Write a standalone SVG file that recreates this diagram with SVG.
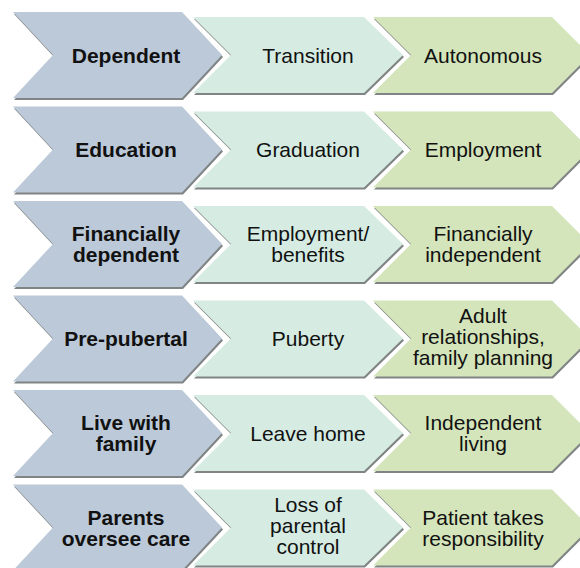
<svg xmlns="http://www.w3.org/2000/svg" width="580" height="568" viewBox="0 0 580 568">
<style>
.b{fill:#bcc9d8}
.t{fill:#d6ece3}
.g{fill:#d4e5bb}
.sh{fill:#808484}
text{font-family:"Liberation Sans",Arial,Helvetica,sans-serif;font-size:21px;fill:#111;text-anchor:middle}
.bold{font-weight:bold}
</style>
<defs>
<polygon id="pb" points="13,0 182,0 222,43 182,86 13,86 53,43"/>
<polygon id="pt" points="193,5 364,5 403,43 364,81 193,81 231,43"/>
<polygon id="pg" points="373,5 552,5 590,43 552,81 373,81 411,43"/>
</defs>
<rect width="580" height="568" fill="#ffffff"/>
<g id="connectors"/>

<g id="row1" transform="translate(0,12)">
<g id="dependent"><use href="#pb" class="sh" x="1" y="2"/><use href="#pb" class="b"/><text class="bold" x="126" y="50.5">Dependent</text></g>
<g id="transition"><use href="#pt" class="sh" x="1" y="2"/><use href="#pt" class="t"/><text x="308" y="50.5">Transition</text></g>
<g id="autonomous"><use href="#pg" class="sh" x="1" y="2"/><use href="#pg" class="g"/><text x="483" y="50.5">Autonomous</text></g>
</g>

<g id="row2" transform="translate(0,106.5)">
<g id="education"><use href="#pb" class="sh" x="1" y="2"/><use href="#pb" class="b"/><text class="bold" x="126" y="50.5">Education</text></g>
<g id="graduation"><use href="#pt" class="sh" x="1" y="2"/><use href="#pt" class="t"/><text x="308" y="50.5">Graduation</text></g>
<g id="employment"><use href="#pg" class="sh" x="1" y="2"/><use href="#pg" class="g"/><text x="483" y="50.5">Employment</text></g>
</g>

<g id="row3" transform="translate(0,201)">
<g id="financially-dependent"><use href="#pb" class="sh" x="1" y="2"/><use href="#pb" class="b"/><text class="bold" x="126" y="40">Financially</text><text class="bold" x="126" y="61">dependent</text></g>
<g id="employment-benefits"><use href="#pt" class="sh" x="1" y="2"/><use href="#pt" class="t"/><text x="308" y="40">Employment/</text><text x="308" y="61">benefits</text></g>
<g id="financially-independent"><use href="#pg" class="sh" x="1" y="2"/><use href="#pg" class="g"/><text x="483" y="40">Financially</text><text x="483" y="61">independent</text></g>
</g>

<g id="row4" transform="translate(0,295.5)">
<g id="pre-pubertal"><use href="#pb" class="sh" x="1" y="2"/><use href="#pb" class="b"/><text class="bold" x="126" y="50.5">Pre-pubertal</text></g>
<g id="puberty"><use href="#pt" class="sh" x="1" y="2"/><use href="#pt" class="t"/><text x="308" y="50.5">Puberty</text></g>
<g id="adult-relationships"><use href="#pg" class="sh" x="1" y="2"/><use href="#pg" class="g"/><text x="483" y="27">Adult</text><text x="483" y="48">relationships,</text><text x="483" y="69">family planning</text></g>
</g>

<g id="row5" transform="translate(0,390)">
<g id="live-with-family"><use href="#pb" class="sh" x="1" y="2"/><use href="#pb" class="b"/><text class="bold" x="126" y="40">Live with</text><text class="bold" x="126" y="61">family</text></g>
<g id="leave-home"><use href="#pt" class="sh" x="1" y="2"/><use href="#pt" class="t"/><text x="308" y="50.5">Leave home</text></g>
<g id="independent-living"><use href="#pg" class="sh" x="1" y="2"/><use href="#pg" class="g"/><text x="483" y="40">Independent</text><text x="483" y="61">living</text></g>
</g>

<g id="row6" transform="translate(0,484.5)">
<g id="parents-oversee-care"><use href="#pb" class="sh" x="1" y="2"/><use href="#pb" class="b"/><text class="bold" x="126" y="40">Parents</text><text class="bold" x="126" y="61">oversee care</text></g>
<g id="loss-of-parental-control"><use href="#pt" class="sh" x="1" y="2"/><use href="#pt" class="t"/><text x="308" y="27">Loss of</text><text x="308" y="48">parental</text><text x="308" y="69">control</text></g>
<g id="patient-takes-responsibility"><use href="#pg" class="sh" x="1" y="2"/><use href="#pg" class="g"/><text x="483" y="40">Patient takes</text><text x="483" y="61">responsibility</text></g>
</g>
</svg>
